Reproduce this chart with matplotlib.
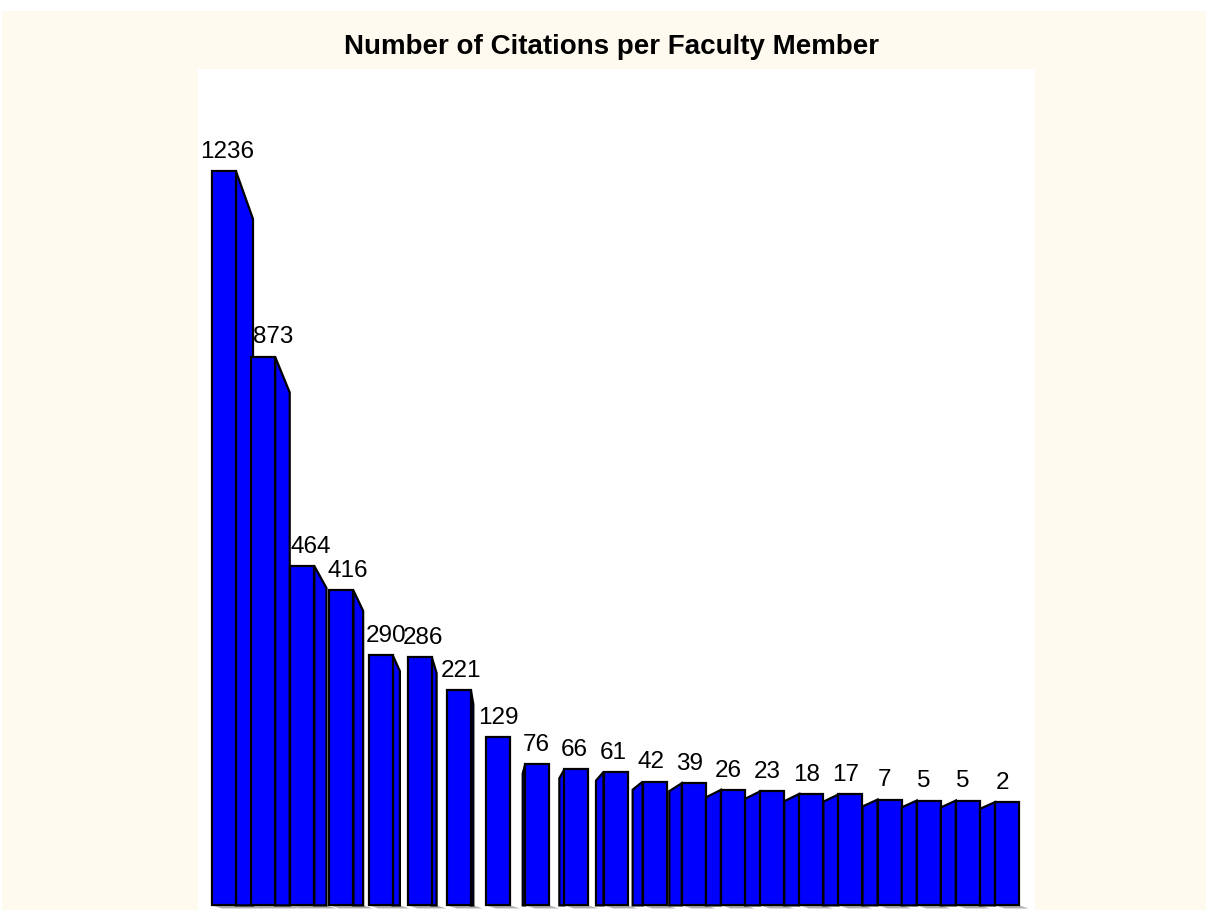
import matplotlib
matplotlib.use("Agg")
import matplotlib.pyplot as plt
from matplotlib.patches import Polygon

title = "Number of Citations per Faculty Member"
values = [1236, 873, 464, 416, 290, 286, 221, 129, 76, 66, 61, 42, 39, 26, 23, 18, 17, 7, 5, 5, 2]

W, H = 1206, 910
fig = plt.figure(figsize=(W / 100, H / 100), dpi=100)
fig.patch.set_facecolor("white")
# cream panel
bg = fig.add_axes([2 / W, 0, 1 - 2 / W, 1 - 11 / H])
bg.set_facecolor("#FFFAEF")
bg.set_xticks([]); bg.set_yticks([])
for s in bg.spines.values():
    s.set_visible(False)

ax = fig.add_axes([198 / W, 0, (1035 - 198) / W, 1 - 69 / H])
ax.set_facecolor("white")
for s in ax.spines.values():
    s.set_visible(False)
ax.set_xticks([]); ax.set_yticks([])

step_px = 39.15
span_units = (1035 - 198) / step_px
x0 = -26 / step_px
ax.set_xlim(x0, x0 + span_units)
bottom = -200
ax.set_ylim(-209, 1436)

bw = 24 / step_px
blue = "#0000FF"
lw = 1.6
for i, v in enumerate(values):
    xl, xr = i - bw / 2, i + bw / 2
    # perspective side offset (pixels -> units)
    if i < 7:
        dxp = 17 * (7 - i) / 7
    else:
        dxp = -min(15, 2.5 * (i - 7))
    dx = dxp / step_px
    dy = 0.065 * (v - bottom)
    # shadow
    ax.add_patch(Polygon([(xl, bottom), (xr + max(dx, 0), bottom),
                          (xr + max(dx, 0) + 0.25, bottom - 6), (xl + 0.25, bottom - 6)],
                         closed=True, facecolor="#B0B0B0", edgecolor="none", zorder=1))
    if abs(dxp) > 0.5:
        xe = xr if dx > 0 else xl
        side = [(xe, bottom), (xe, v), (xe + dx, v - dy), (xe + dx, bottom)]
        ax.add_patch(Polygon(side, closed=True, facecolor=blue, edgecolor="black",
                             linewidth=lw, joinstyle="miter", zorder=2 + i * 0.01))
    ax.add_patch(Polygon([(xl, bottom), (xl, v), (xr, v), (xr, bottom)], closed=True,
                         facecolor=blue, edgecolor="black", linewidth=lw,
                         joinstyle="miter", zorder=2.005 + i * 0.01))
    if i == 0:
        off_px = 3
    elif dxp > 0:
        off_px = 0.7 * dxp
    else:
        off_px = 0.33 * dxp
    ax.annotate(str(v), xy=(i, v), xytext=(off_px * 0.72, 6), textcoords="offset points",
                ha="center", va="bottom", fontsize=17.5, family="Liberation Sans",
                color="black", zorder=5)

fig.text(611 / W, 1 - 47 / H, title, ha="center", va="center", fontsize=20,
         fontweight="bold", family="Liberation Sans", color="black")

fig.savefig("out.png", dpi=100, facecolor=fig.get_facecolor())
